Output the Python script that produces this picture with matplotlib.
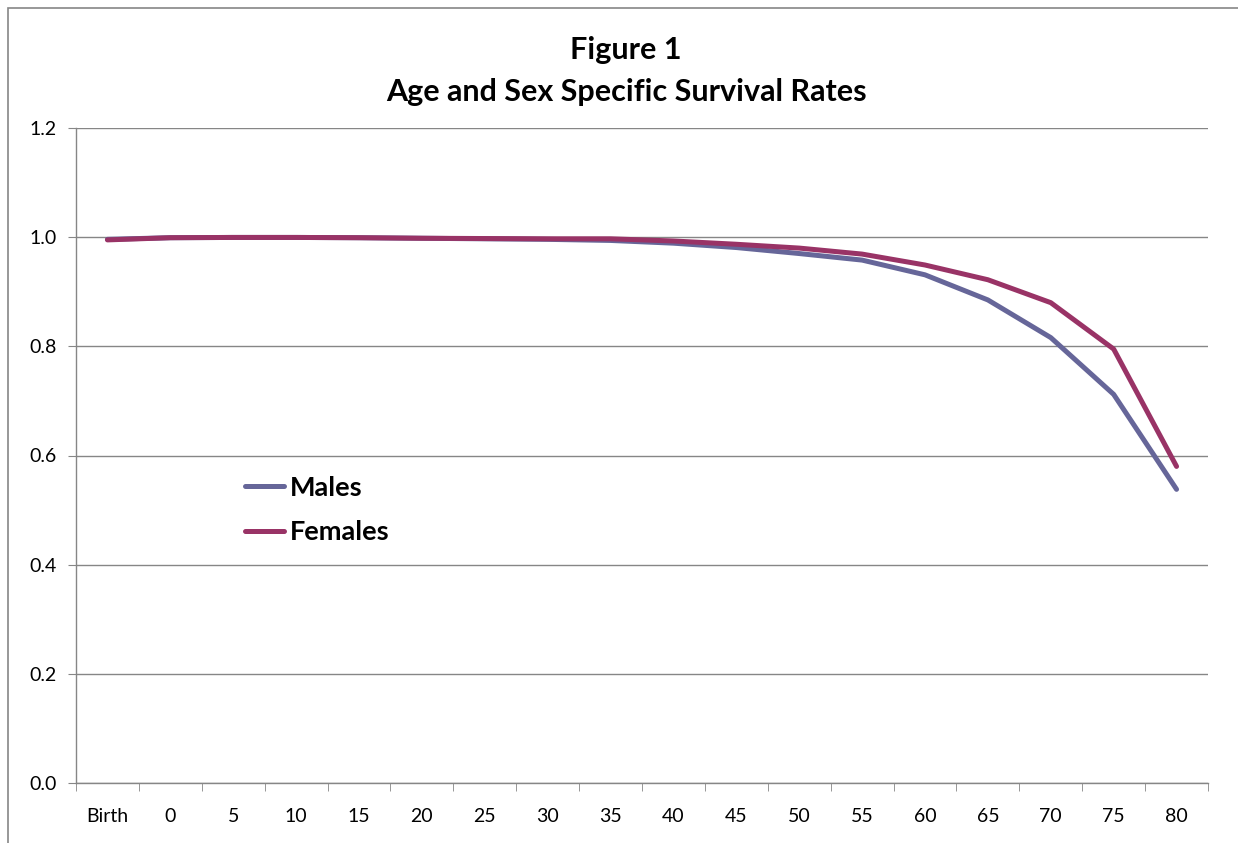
import matplotlib
matplotlib.use('Agg')
import matplotlib.pyplot as plt
from matplotlib.patches import Rectangle
import numpy as np

plt.rcParams.update({'font.family': ['Lato', 'DejaVu Sans']})

# data
ages = ['Birth', '0', '5', '10', '15', '20', '25', '30', '35',
        '40', '45', '50', '55', '60', '65', '70', '75', '80']
males = [0.996, 0.999, 0.9995, 0.9995, 0.999, 0.998, 0.997, 0.996, 0.994,
         0.989, 0.981, 0.970, 0.958, 0.931, 0.885, 0.816, 0.712, 0.538]
females = [0.995, 0.999, 0.9995, 0.9995, 0.999, 0.998, 0.9975, 0.997, 0.997,
           0.993, 0.987, 0.980, 0.969, 0.949, 0.922, 0.880, 0.795, 0.580]

c_male = '#666699'
c_female = '#993366'
c_axis = '#868686'

W, H = 1238, 843
fig = plt.figure(figsize=(W / 100, H / 100), dpi=100)
ax = fig.add_axes([76 / W, (H - 783) / H, (1208 - 76) / W, (783 - 128) / H])

x = np.arange(len(ages))
ax.plot(x, males, color=c_male, lw=3.6, label='Males', solid_capstyle='round')
ax.plot(x, females, color=c_female, lw=3.6, label='Females', solid_capstyle='round')

ax.set_xlim(-0.5, len(ages) - 0.5)
ax.set_ylim(0, 1.2)
ax.set_yticks(np.arange(0, 1.21, 0.2))
ax.set_yticklabels(['%.1f' % v for v in np.arange(0, 1.21, 0.2)])
ax.set_xticks(x)
ax.set_xticklabels(ages)
ax.set_xticks(np.arange(-0.5, len(ages), 1), minor=True)
ax.tick_params(axis='x', which='major', length=0, pad=18, labelsize=14)
ax.tick_params(axis='x', which='minor', length=6, color=c_axis, direction='out')
ax.tick_params(axis='y', length=6, color=c_axis, pad=8, labelsize=14)

ax.yaxis.grid(True, color=c_axis, lw=1)
ax.set_axisbelow(True)
for s in ['top', 'right']:
    ax.spines[s].set_visible(False)
for s in ['left', 'bottom']:
    ax.spines[s].set_color(c_axis)
    ax.spines[s].set_linewidth(1)

leg = ax.legend(loc='center left', bbox_to_anchor=((245 - 76) / 1132, (783 - 510) / 655),
                frameon=False, borderpad=0, borderaxespad=0, handlelength=1.45,
                handletextpad=0.2, labelspacing=0.75,
                prop={'size': 19.5, 'weight': 'bold'})

fig.text(626 / W, 1 - 50 / H, 'Figure 1', ha='center', va='center',
         fontsize=22, fontweight='bold')
fig.text(626 / W, 1 - 92 / H, 'Age and Sex Specific Survival Rates', ha='center',
         va='center', fontsize=22, fontweight='bold')

# chart frame
fig.patches.append(Rectangle((8 / W, -0.05), 1.2, (H - 8) / H + 0.05,
                             transform=fig.transFigure, fill=False,
                             edgecolor=c_axis, lw=1.2))

fig.savefig('out.png', dpi=100)
